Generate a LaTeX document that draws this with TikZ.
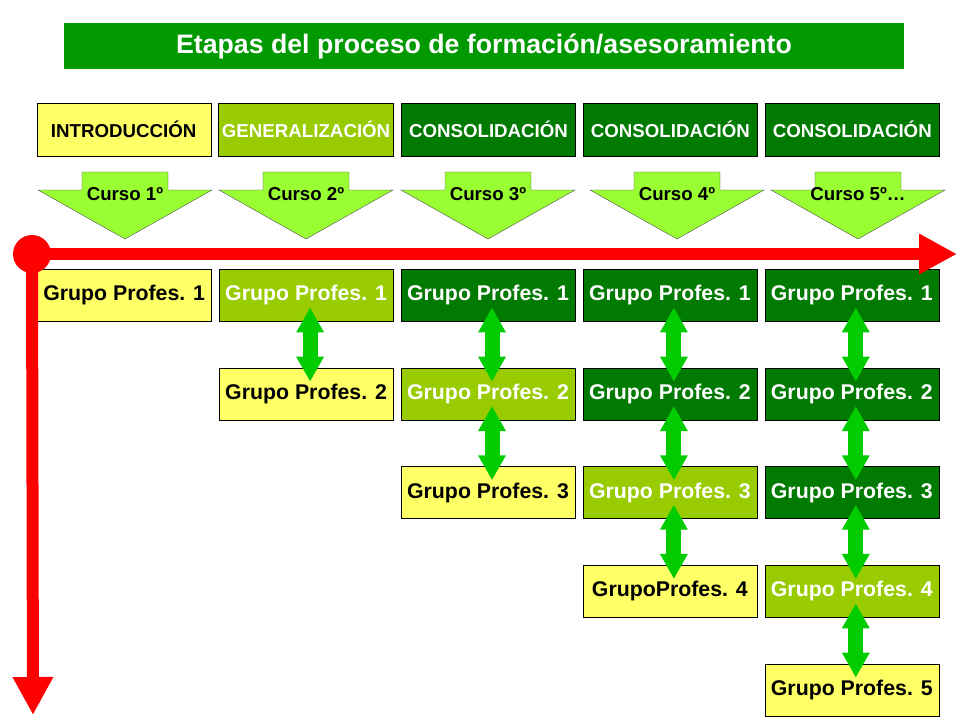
\documentclass[tikz,border=0pt]{standalone}
\usepackage{fontspec}
\setmainfont{Liberation Sans}
\usetikzlibrary{arrows.meta,matrix}
\definecolor{titgreen}{HTML}{009900}
\definecolor{yel}{HTML}{FFFF66}
\definecolor{lgreen}{HTML}{99CC00}
\definecolor{dgreen}{HTML}{007A00}
\definecolor{cursogreen}{HTML}{99FF33}
\definecolor{dblgreen}{HTML}{00CC00}
\tikzset{>={Triangle[width=26pt,length=25pt]}}
\newcommand{\boxfont}{\fontsize{21.3}{24}\selectfont\bfseries}
\newcommand{\headfont}{\fontsize{18.7}{22}\selectfont\bfseries}

\begin{document}
\begin{tikzpicture}[x=1pt,y=-1pt]

\tikzstyle{yb}=[fill=yel,text=black]
\tikzstyle{lb}=[fill=lgreen,text=white]
\tikzstyle{db}=[fill=dgreen,text=white]
\tikzstyle{dbl}=[<->,line width=15pt,draw=dblgreen]
\tikzstyle{axis}=[-{Triangle[width=38pt,length=38pt]},line width=12pt,draw=red]

  \useasboundingbox (0,0) rectangle (960,720);

  \node[fill=titgreen,text=white,minimum width=840pt,minimum height=46pt,
   font=\fontsize{26.7}{30}\selectfont\bfseries] (title) at (484,46)
   {Etapas del proceso de formación/asesoramiento};

  \matrix (h) at (488,129.5)
 [matrix of nodes,column sep=7.5pt,
  nodes={draw,thin,minimum width=174pt,minimum height=53pt,font=\headfont}]
 {
    |[yb]| INTRODUCCIÓN & |[lb]| GENERALIZACIÓN & |[db]| CONSOLIDACIÓN
    & |[db]| CONSOLIDACIÓN & |[db]| CONSOLIDACIÓN \\
 };

  % flechas de curso
  \foreach \x/\lab [count=\i] in {125/Curso 1º,306/Curso 2º,488/Curso 3º,
    677/Curso 4º,858/Curso 5º…}
  {
    \draw[fill=cursogreen,draw=black!70,thin] (\x-43,172) -- (\x+43,172)
      -- (\x+43,190) -- (\x+87,190) -- (\x,239) -- (\x-87,190)
      -- (\x-43,190) -- cycle;
    \node[font=\headfont] (c\i) at (\x,194) {\lab};
  }

  \matrix (g) at (488,492.5)
 [matrix of nodes,column sep=7.5pt,row sep=46.25pt,
  nodes={draw,thin,minimum width=174pt,minimum height=52pt,font=\boxfont}]
 {
    |[yb]| Grupo Profes. 1 & |[lb]| Grupo Profes. 1 & |[db]| Grupo Profes. 1
    & |[db]| Grupo Profes. 1 & |[db]| Grupo Profes. 1 \\
    & |[yb]| Grupo Profes. 2 & |[lb]| Grupo Profes. 2
    & |[db]| Grupo Profes. 2 & |[db]| Grupo Profes. 2 \\
    & & |[yb]| Grupo Profes. 3 & |[lb]| Grupo Profes. 3 & |[db]| Grupo Profes. 3 \\
    & & & |[yb]| GrupoProfes. 4 & |[lb]| Grupo Profes. 4 \\
    & & & & |[yb]| Grupo Profes. 5 \\
 };

  % flechas dobles
  \foreach \c in {2,...,5}
   \foreach \r in {2,...,\c}
   {
     \pgfmathtruncatemacro{\p}{\r-1}
     \draw[dbl] ([xshift=4pt,yshift=14pt]g-\p-\c.south)
       -- ([xshift=4pt,yshift=-14pt]g-\r-\c.north);
   }

  % ejes
  \coordinate (o) at (32,254);
  \coordinate (xend) at (957,254);
  \coordinate (yend) at (33,715);
  \draw[axis] (o) -- (xend);
  \draw[axis] (o) -- (yend);
  \fill[red] (o) circle (19pt);

\end{tikzpicture}
\end{document}
